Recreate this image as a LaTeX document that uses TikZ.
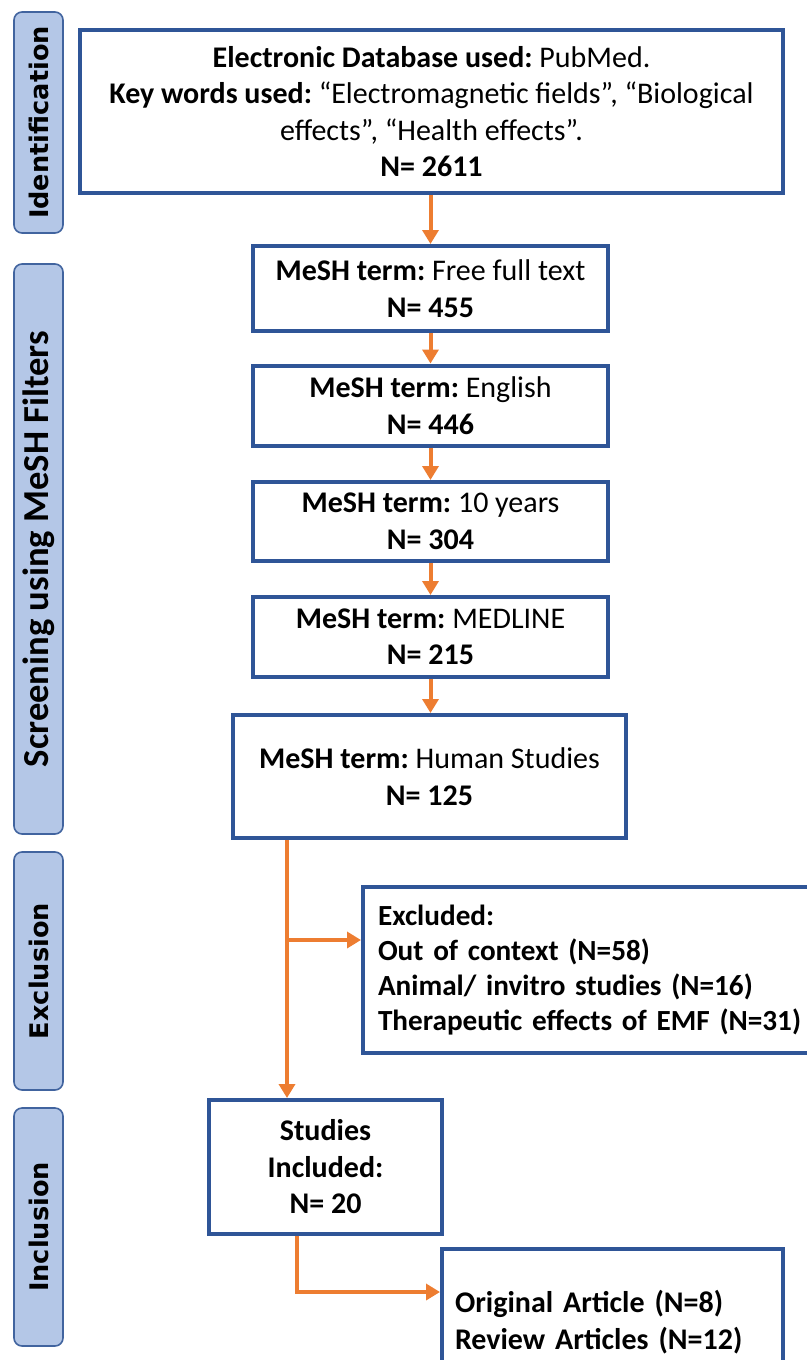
\documentclass[tikz,border=0pt]{standalone}
\usepackage{fontspec}
\setmainfont{Carlito}
\newfontfamily\sidefont{DejaVu Sans}
\usetikzlibrary{arrows.meta}
\definecolor{boxBlue}{HTML}{2F5597}
\definecolor{flowOrange}{HTML}{ED7D31}
\definecolor{sideFill}{HTML}{B4C7E7}
\definecolor{sideLine}{HTML}{41649F}
\frenchspacing

\begin{document}
\begin{tikzpicture}[x=0.5pt, y=-0.5pt,
  box/.style={draw=boxBlue, line width=2pt, align=center, inner sep=0pt,
    font=\fontsize{15}{18.25}\selectfont},
  side/.style={draw=sideLine, fill=sideFill, line width=0.8pt, rounded corners=4pt,
    rotate=90, minimum height=24.5pt, inner sep=0pt, font=\bfseries},
  flow/.style={draw=flowOrange, line width=2pt, -{Triangle[length=7pt, width=8pt]}}]
\useasboundingbox (0,0) rectangle (807,1360);
\clip (0,0) rectangle (807,1360);

% stage labels on the left
\node[side, minimum width=110.5pt] (sideid) at (38.5, 122.5) {\sidefont\fontsize{12.8}{14}\selectfont Identification};
\node[side, minimum width=285pt] (sidescr) at (38.5, 549) {\fontsize{18.3}{20}\selectfont Screening using MeSH Filters};
\node[side, minimum width=119pt] (sideexc) at (38.5, 971) {\sidefont\fontsize{12.8}{14}\selectfont Exclusion};
\node[side, minimum width=119pt] (sideinc) at (38.5, 1227) {\sidefont\fontsize{12.8}{14}\selectfont Inclusion};

% flow boxes
\node[box, minimum width=351.5pt, minimum height=81.5pt] (db) at (431.5, 111.5)
  {\textbf{Electronic Database used:} PubMed.\\
   \textbf{Key words used:} “Electromagnetic fields”, “Biological\\
   effects”, “Health effects”.\\
   \textbf{N= 2611}};
\node[box, minimum width=177.5pt, minimum height=42.5pt] (free) at (430.5, 288.5)
  {\textbf{MeSH term:} Free full text\\ \textbf{N= 455}};
\node[box, minimum width=177.5pt, minimum height=40pt] (eng) at (430.5, 405.5)
  {\textbf{MeSH term:} English\\ \textbf{N= 446}};
\node[box, minimum width=177.5pt, minimum height=39.5pt] (yrs) at (430.5, 521.5)
  {\textbf{MeSH term:} 10 years\\ \textbf{N= 304}};
\node[box, minimum width=177.5pt, minimum height=40pt] (medl) at (430.5, 637)
  {\textbf{MeSH term:} MEDLINE\\ \textbf{N= 215}};
\node[box, minimum width=196.5pt, minimum height=61.5pt] (hum) at (429.5, 776.5)
  {\textbf{MeSH term:} Human Studies\\ \textbf{N= 125}};
\node[box, align=left, inner xsep=7.5pt, text width=218.5pt, minimum height=83pt,
  font=\fontsize{14.6}{17.5}\selectfont] (excl) at (596.5, 970)
  {\textbf{Excluded:}\\
   \textbf{Out of context (N=58)}\\
   \textbf{Animal/ invitro studies (N=16)}\\
   \textbf{Therapeutic effects of EMF (N=31)}};
\node[box, minimum width=116.5pt, minimum height=67pt] (incl) at (325.5, 1167)
  {\textbf{Studies}\\ \textbf{Included:}\\ \textbf{N= 20}};
\node[box, align=left, inner xsep=6.5pt, text width=157.5pt, minimum height=73pt] (art) at (612.5, 1322)
  {\textbf{Original Article (N=8)}\\ \textbf{Review Articles (N=12)}};

% connectors
\draw[flow] (free.north |- db.south) -- (free.north);
\draw[flow] (free) -- (eng);
\draw[flow] (eng) -- (yrs);
\draw[flow] (yrs) -- (medl);
\draw[flow] (medl) -- (medl |- hum.north);

\coordinate (split) at (287, 940);
\draw[flow] (split |- hum.south) -- (split |- incl.north);
\draw[flow] (split) -- (excl.west |- split);

\coordinate (turn) at (297, 1292);
\draw[flow] (turn |- incl.south) -- (turn) -- (art.west |- turn);
\end{tikzpicture}
\end{document}
